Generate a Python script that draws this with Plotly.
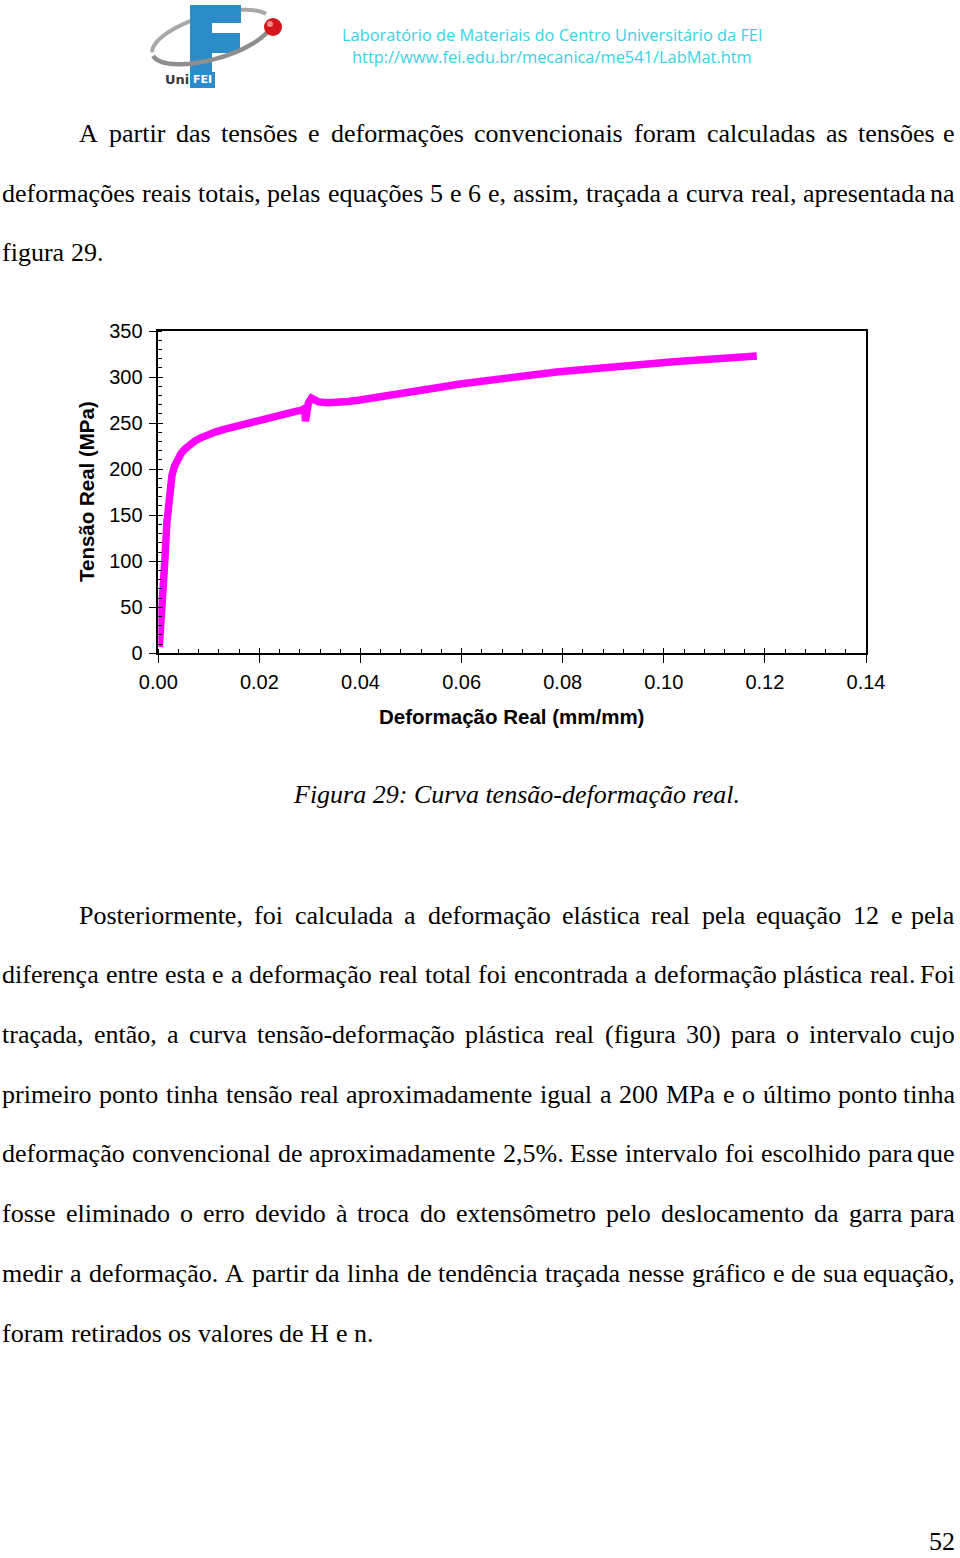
import numpy as np
import plotly.graph_objects as go

W, H = 960, 1558

# ---------------- chart data ----------------
strain = [0.0002, 0.0008, 0.0013, 0.0017, 0.0020, 0.0023, 0.0027, 0.0032, 0.0038,
          0.0045, 0.0053, 0.0062, 0.0072, 0.0084, 0.0098, 0.0114, 0.0132, 0.0152,
          0.0175, 0.0195, 0.0214, 0.0234, 0.0254, 0.0270, 0.0284, 0.0290, 0.0291,
          0.0293, 0.0297, 0.0303, 0.0310, 0.0317, 0.0335, 0.0353, 0.0376, 0.0399,
          0.0432, 0.0465, 0.0498, 0.0531, 0.0564, 0.0597, 0.0630, 0.0660, 0.0689,
          0.0722, 0.0755, 0.0788, 0.0821, 0.0854, 0.0887, 0.0920, 0.0953, 0.0986,
          0.1019, 0.1052, 0.1085, 0.1118, 0.1151, 0.1184]
stress = [7, 50, 101, 142, 165, 181, 193, 203, 211,
          217, 222, 226.5, 230.5, 234, 237.5, 240.5, 243.5, 246.5,
          250, 252.5, 255, 258, 260.5, 262.5, 264, 266, 252,
          266, 272, 277, 275, 273, 272, 272, 273.5, 275,
          277.5, 280.5, 283.5, 286.6, 289.5, 292.5, 295, 297.5, 300,
          302, 304, 305.5, 307, 309, 310.6, 312, 313.8, 315,
          316.7, 318, 319.3, 320.5, 321.4, 322.9]

x_tick_values = [0.00, 0.02, 0.04, 0.06, 0.08, 0.10, 0.12, 0.14]
x_tick_labels = ["0.00", "0.02", "0.04", "0.06", "0.08", "0.10", "0.12", "0.14"]
y_tick_values = [0, 50, 100, 150, 200, 250, 300, 350]
y_tick_labels = ["0", "50", "100", "150", "200", "250", "300", "350"]

x_title = "Deformação Real (mm/mm)"
y_title = "Tensão Real (MPa)"

# ---------------- page text ----------------
header_1 = "Laboratório de Materiais do Centro Universitário da FEI"
header_2 = "http://www.fei.edu.br/mecanica/me541/LabMat.htm"

para1 = [
    "A partir das tensões e deformações convencionais foram calculadas as tensões e",
    "deformações reais totais, pelas equações 5 e 6 e, assim, traçada a curva real, apresentada na",
    "figura 29.",
]
para2 = [
    "Posteriormente, foi calculada a deformação elástica real pela equação 12 e pela",
    "diferença entre esta e a deformação real total foi encontrada a deformação plástica real. Foi",
    "traçada, então, a curva tensão-deformação plástica real (figura 30) para o intervalo cujo",
    "primeiro ponto tinha tensão real aproximadamente igual a 200 MPa e o último ponto tinha",
    "deformação convencional de aproximadamente 2,5%. Esse intervalo foi escolhido para que",
    "fosse eliminado o erro devido à troca do extensômetro pelo deslocamento da garra para",
    "medir a deformação. A partir da linha de tendência traçada nesse gráfico e de sua equação,",
    "foram retirados os valores de H e n.",
]
caption = "Figura 29: Curva tensão-deformação real."
page_number = "52"


def X(px):
    return px / W


def Y(py):
    return 1 - py / H


# Times / Liberation Serif advance widths (per 1000 em)
TIMES = {' ': 250, ',': 250, '.': 250, '-': 333, '(': 333, ')': 333, '%': 833, ':': 278,
         '/': 278, 'A': 722, 'E': 611, 'F': 556, 'H': 722, 'M': 889, 'P': 556,
         'a': 444, 'b': 500, 'c': 444, 'd': 500, 'e': 444, 'f': 333, 'g': 500, 'h': 500,
         'i': 278, 'j': 278, 'k': 500, 'l': 278, 'm': 778, 'n': 500, 'o': 500, 'p': 500,
         'q': 500, 'r': 333, 's': 389, 't': 278, 'u': 500, 'v': 500, 'w': 722, 'x': 500,
         'y': 500, 'z': 444, 'ã': 444, 'á': 444, 'à': 444, 'â': 444, 'ç': 444, 'é': 444,
         'ê': 444, 'í': 278, 'ó': 500, 'ô': 500, 'õ': 500, 'ú': 500}
for d in "0123456789":
    TIMES[d] = 500

FS = 26
SERIF = "Liberation Serif, Times New Roman, serif"
SANS = "Liberation Sans, Arial, sans-serif"
LEFT, RIGHT, INDENT = 1, 956, 78
LINE_GAP = 59.7

annotations = []


def tw(s):
    return sum(TIMES.get(c, 500) for c in s) * FS / 1000.0


def word_ann(x, y, text, anchor="left"):
    annotations.append(dict(x=X(x), y=Y(y), xref="paper", yref="paper", text=text,
                            showarrow=False, xanchor=anchor, yanchor="middle", borderpad=0,
                            font=dict(family=SERIF, size=FS, color="black")))


def add_line(text, yc, left, justify):
    words = text.split(" ")
    widths = [tw(w) for w in words]
    if justify and len(words) > 1:
        gap = (RIGHT - left - sum(widths)) / (len(words) - 1)
    else:
        gap = tw(" ")
    x = left
    for i, (w, wd) in enumerate(zip(words, widths)):
        if justify and i == len(words) - 1:
            word_ann(RIGHT, yc, w, "right")
        else:
            word_ann(x, yc, w)
        x += wd + gap


def add_paragraph(lines, y_first):
    for i, line in enumerate(lines):
        left = INDENT if i == 0 else LEFT
        add_line(line, y_first + i * LINE_GAP, left, i < len(lines) - 1)


add_paragraph(para1, 133.5)
add_paragraph(para2, 1333.0 - 7 * LINE_GAP)

annotations.append(dict(x=X(516), y=Y(795), xref="paper", yref="paper",
                        text="<i>" + caption + "</i>",
                        showarrow=False, xanchor="center", yanchor="middle",
                        font=dict(family=SERIF, size=FS, color="black")))
annotations.append(dict(x=X(956), y=Y(1541), xref="paper", yref="paper", text=page_number,
                        showarrow=False, xanchor="right", yanchor="middle", borderpad=0,
                        font=dict(family=SERIF, size=FS, color="black")))

# header text
CYAN = "#38D3E3"
annotations.append(dict(x=X(552), y=Y(35), xref="paper", yref="paper", text=header_1,
                        showarrow=False, xanchor="center", yanchor="middle",
                        font=dict(family="Open Sans, sans-serif", size=16.4, color=CYAN)))
annotations.append(dict(x=X(552), y=Y(56), xref="paper", yref="paper", text=header_2,
                        showarrow=False, xanchor="center", yanchor="middle",
                        font=dict(family="Open Sans, sans-serif", size=16.4, color=CYAN)))

# axis titles
annotations.append(dict(x=X(511), y=Y(717), xref="paper", yref="paper", text="<b>" + x_title + "</b>",
                        showarrow=False, xanchor="center", yanchor="middle",
                        font=dict(family=SANS, size=20.5, color="black")))
annotations.append(dict(x=X(86), y=Y(492), xref="paper", yref="paper", text="<b>" + y_title + "</b>",
                        showarrow=False, xanchor="center", yanchor="middle", textangle=-90,
                        font=dict(family=SANS, size=20.5, color="black")))

# logo "UniFEI"
annotations.append(dict(x=X(189.5), y=Y(80), xref="paper", yref="paper", text="<b>Uni</b>",
                        showarrow=False, xanchor="right", yanchor="middle", borderpad=0,
                        font=dict(family="DejaVu Sans, sans-serif", size=13, color="#3A3A3A")))
annotations.append(dict(x=X(202.5), y=Y(80), xref="paper", yref="paper", text="<b>FEI</b>",
                        showarrow=False, xanchor="center", yanchor="middle", borderpad=0,
                        font=dict(family="DejaVu Sans, sans-serif", size=11, color="white")))

# ---------------- logo shapes ----------------
BLUE = "#2B8CC8"
shapes = []


def rect(x0, y0, x1, y1, color):
    shapes.append(dict(type="rect", xref="paper", yref="paper", x0=X(x0), x1=X(x1),
                       y0=Y(y1), y1=Y(y0), fillcolor=color, line=dict(width=0), layer="above"))


def ellipse_path(cx, cy, a, b, rot_deg, t0, t1, n=60):
    t = np.linspace(np.radians(t0), np.radians(t1), n)
    r = np.radians(rot_deg)
    xs = cx + a * np.cos(t) * np.cos(r) - b * np.sin(t) * np.sin(r)
    ys = cy - (a * np.cos(t) * np.sin(r) + b * np.sin(t) * np.cos(r))
    return "M " + " L ".join(f"{X(x):.5f},{Y(y):.5f}" for x, y in zip(xs, ys))


shapes.append(dict(type="path", xref="paper", yref="paper",
                   path=ellipse_path(212, 37, 62, 22, 16, 20, 175),
                   line=dict(color="#A8A8A8", width=4), layer="above"))
rect(190, 5, 212, 72, BLUE)
rect(190, 5, 241, 23, BLUE)
rect(212, 33, 240, 53, BLUE)
rect(190, 72, 215, 88, BLUE)
shapes.append(dict(type="path", xref="paper", yref="paper",
                   path=ellipse_path(212, 37, 62, 22, 16, 185, 345),
                   line=dict(color="#8E8E8E", width=4.5), layer="above"))
shapes.append(dict(type="circle", xref="paper", yref="paper",
                   x0=X(264), x1=X(282), y0=Y(36), y1=Y(18),
                   fillcolor="#D4161C", line=dict(width=0), layer="above"))
shapes.append(dict(type="circle", xref="paper", yref="paper",
                   x0=X(267), x1=X(273), y0=Y(27), y1=Y(21),
                   fillcolor="#F28A8A", line=dict(width=0), layer="above"))

# ---------------- figure ----------------
fig = go.Figure()
fig.add_trace(go.Scatter(x=strain, y=stress, mode="lines",
                         line=dict(color="#FF00FF", width=7.5),
                         showlegend=False, hoverinfo="skip"))
# empty trace to create the overlay axes carrying the inner half of major ticks
fig.add_trace(go.Scatter(x=[None], y=[None], xaxis="x2", yaxis="y2", mode="lines",
                         showlegend=False, hoverinfo="skip"))

axis_common = dict(showgrid=False, zeroline=False, showline=True, linecolor="black",
                   linewidth=1.5, mirror=True, ticks="outside", ticklen=8, tickwidth=1.3,
                   tickcolor="black", fixedrange=True, automargin=False, ticklabelstandoff=2,
                   tickfont=dict(family=SANS, size=20, color="black"))
overlay_common = dict(showgrid=False, zeroline=False, showline=False, ticks="inside",
                      ticklen=5, tickwidth=1.3, tickcolor="black", showticklabels=False,
                      fixedrange=True, automargin=False)

fig.update_layout(
    width=W, height=H, autosize=False,
    margin=dict(l=0, r=0, t=0, b=0, pad=0, autoexpand=False),
    paper_bgcolor="white", plot_bgcolor="white",
    showlegend=False,
    xaxis=dict(domain=[X(158.3), X(866)], range=[0, 0.14],
               tickmode="array", tickvals=x_tick_values, ticktext=x_tick_labels,
               minor=dict(tickmode="linear", tick0=0, dtick=0.004, ticks="inside",
                          ticklen=5, tickwidth=1, tickcolor="black", showgrid=False),
               **axis_common),
    yaxis=dict(domain=[Y(653.3), Y(331)], range=[0, 350],
               tickmode="array", tickvals=y_tick_values, ticktext=y_tick_labels,
               minor=dict(tickmode="linear", tick0=0, dtick=10, ticks="inside",
                          ticklen=4, tickwidth=1, tickcolor="black", showgrid=False),
               **axis_common),
    xaxis2=dict(overlaying="x", anchor="y2", range=[0, 0.14], side="bottom",
                tickmode="array", tickvals=x_tick_values, **overlay_common),
    yaxis2=dict(overlaying="y", anchor="x2", range=[0, 350], side="left",
                tickmode="array", tickvals=y_tick_values, **overlay_common),
    annotations=annotations,
    shapes=shapes,
)

fig.write_html("out.html", config={"responsive": False, "displayModeBar": False},
               post_script="document.body.style.margin='0';document.body.style.padding='0';")
